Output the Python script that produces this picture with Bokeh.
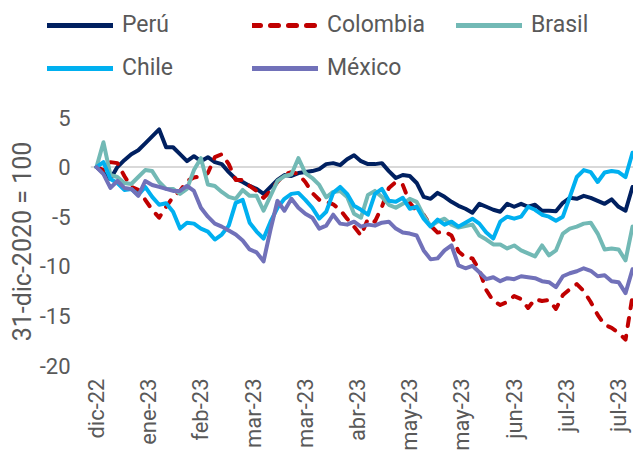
from math import pi
from bokeh.plotting import figure
from bokeh.layouts import column
from bokeh.models import FixedTicker, Span, Legend, LegendItem
from bokeh.embed import file_html
from bokeh.resources import INLINE

# business-day index (every second trading day since 30-dic-2022)
dias = list(range(0, 155, 2))

peru = [0, -0.6, -1.2, 0.0, 0.7, 1.3, 1.7, 2.4, 3.1, 3.8,
        2.0, 2.0, 1.3, 0.6, 1.1, 0.6, 1.0, 0.5, 0.3, -0.5,
        -1.2, -1.5, -1.9, -2.2, -2.7, -2.0, -1.3, -0.8, -0.9, -0.6,
        -0.5, -0.4, -0.2, 0.3, 0.4, 0.2, 0.8, 1.2, 0.6, 0.3,
        0.3, 0.4, -0.4, -1.1, -0.8, -0.9, -1.6, -3.0, -3.2, -2.6,
        -3.0, -3.5, -3.9, -4.2, -4.6, -3.7, -4.0, -4.3, -4.5, -3.7,
        -4.0, -3.7, -4.0, -3.8, -4.4, -4.4, -4.45, -3.6, -3.1, -3.2,
        -2.9, -3.1, -3.4, -3.7, -3.25, -4.0, -4.4, -2.0]

colombia = [0, -0.3, 0.5, 0.4, -0.9, -2.0, -2.3, -3.3, -4.3, -5.1,
            -4.0, -3.0, -2.4, -1.4, -1.05, -0.9, -0.6, 1.0, 1.3, 0.3,
            -1.3, -1.3, -1.9, -2.4, -3.1, -2.4, -1.5, -0.75, -0.5, -0.7,
            -1.5, -2.6, -3.3, -3.5, -3.75, -4.3, -5.2, -6.0, -6.9, -5.2,
            -5.5, -4.0, -2.1, -1.5, -1.8, -3.6, -4.45, -4.8, -5.9, -6.6,
            -6.5, -6.9, -8.5, -9.1, -9.2, -10.4, -12.4, -13.5, -13.9, -13.6,
            -13.0, -13.3, -14.2, -13.3, -13.5, -13.4, -14.3, -12.9, -12.3, -11.8,
            -12.5, -13.6, -14.9, -15.9, -16.2, -16.7, -17.4, -13.0]

brasil = [0, 2.5, -0.8, -1.0, -1.6, -1.7, -1.0, -0.3, -0.4, -1.5,
          -2.2, -2.2, -2.7, -2.2, -0.3, 0.9, -1.75, -1.9, -2.5, -3.0,
          -3.2, -2.3, -2.9, -2.9, -4.4, -2.9, -1.4, -0.9, -0.75, 0.9,
          -0.6, -1.1, -1.8, -3.05, -2.5, -2.4, -3.0, -4.7, -5.1, -2.8,
          -2.4, -3.0, -3.8, -4.1, -3.7, -3.2, -3.5, -4.9, -5.95, -5.5,
          -5.2, -5.8, -6.1, -5.95, -5.8, -6.9, -7.3, -7.8, -7.8, -8.2,
          -7.9, -8.4, -8.7, -9.0, -7.9, -8.9, -8.4, -6.7, -6.2, -6.0,
          -5.7, -5.6, -6.7, -8.3, -8.2, -8.3, -9.4, -6.0]

chile = [0, 0.5, -1.2, -1.6, -2.3, -2.2, -2.8, -2.0, -3.0, -3.8,
         -3.65, -4.5, -6.2, -5.6, -5.7, -6.2, -6.5, -7.3, -6.8, -5.9,
         -3.6, -3.3, -5.6, -6.5, -7.2, -5.5, -4.1, -3.2, -2.7, -2.6,
         -3.3, -4.1, -5.2, -4.5, -2.6, -2.0, -2.7, -3.9, -4.3, -4.8,
         -2.7, -2.2, -3.4, -3.5, -3.1, -4.2, -4.0, -5.2, -6.0, -5.3,
         -5.8, -5.5, -6.0, -5.6, -5.2, -5.7, -6.6, -7.2, -5.5, -5.0,
         -5.2, -5.0, -4.0, -4.3, -4.8, -5.0, -5.4, -5.0, -3.0, -1.0,
         -0.3, -0.5, -1.5, -0.55, -0.4, -0.5, -1.0, 1.45]

mexico = [0, -0.7, -2.1, -1.4, -2.1, -2.2, -2.9, -1.4, -1.8, -2.0,
          -2.2, -2.4, -2.4, -1.9, -2.4, -4.1, -5.0, -5.7, -6.0, -6.4,
          -6.8, -7.4, -8.3, -8.6, -9.5, -6.3, -3.4, -4.4, -3.2, -4.1,
          -4.7, -5.1, -6.2, -5.9, -4.8, -5.7, -5.8, -5.5, -6.0, -5.8,
          -5.9, -5.6, -5.5, -6.2, -6.6, -6.7, -6.9, -8.4, -9.3, -9.2,
          -8.4, -7.9, -9.9, -10.2, -9.95, -10.6, -11.3, -11.1, -11.5, -11.2,
          -11.3, -11.0, -11.1, -11.2, -11.5, -11.6, -12.1, -11.0, -10.7, -10.5,
          -10.2, -10.45, -11.0, -10.9, -11.5, -11.6, -12.7, -10.3]

tick_pos = [0, 15, 30, 45, 60, 75, 90, 105, 120, 135, 150]
tick_labels = ["dic-22", "ene-23", "feb-23", "mar-23", "mar-23", "abr-23",
               "may-23", "may-23", "jun-23", "jul-23", "jul-23"]
y_ticks = [-20, -15, -10, -5, 0, 5]
y_tick_labels = ["-20", "-15", "-10", "-5", "0", "5"]

FONT = "Roboto"
GRAY = "#595959"

series = [("Perú", peru, "#002060", None),
          ("Colombia", colombia, "#C00000", "8 10"),
          ("Brasil", brasil, "#72B9B5", None),
          ("Chile", chile, "#00B0F0", None),
          ("México", mexico, "#7171B9", None)]

# ---------- legend strip (top) ----------
LEG_H = 105
leg = figure(width=633, height=LEG_H, output_backend="svg", toolbar_location=None,
             x_range=(0, 633), y_range=(0, LEG_H),
             min_border=0, min_border_left=0, min_border_right=0,
             min_border_top=0, min_border_bottom=0)
leg.axis.visible = False
leg.xgrid.visible = False
leg.ygrid.visible = False
leg.outline_line_color = None

slots = {"Perú": (47, 67), "Colombia": (252, 67), "Brasil": (456, 67),
         "Chile": (47, 24), "México": (252, 24)}
for name, vals, col, dash in series:
    kw = dict(line_color=col, line_width=5, line_cap="round")
    if dash:
        kw["line_dash"] = dash
    # legend-only key line: a single undefined point, nothing is drawn in the strip
    r = leg.line([float("nan")], [float("nan")], **kw)
    lg = Legend(items=[LegendItem(label=name, renderers=[r])],
                location=slots[name], padding=0, margin=0, spacing=0,
                border_line_color=None, background_fill_alpha=0,
                label_text_font=FONT, label_text_font_size="23px",
                label_text_color=GRAY, glyph_width=66, glyph_height=26,
                label_height=26, label_standoff=9)
    leg.add_layout(lg)

# ---------- main chart ----------
p = figure(width=633, height=453 - LEG_H, output_backend="svg", toolbar_location=None,
           x_range=(-1.724, 154.29), y_range=(-20, 5),
           min_border_left=90, min_border_right=0,
           min_border_top=12, min_border_bottom=86)
p.outline_line_color = None
p.xgrid.visible = False
p.ygrid.visible = False

try:
    leg.frame_align = False
    p.frame_align = False
except AttributeError:
    pass

p.add_layout(Span(location=0, dimension="width", line_color="#d9d9d9",
                  line_width=2, level="underlay"))

for name, vals, col, dash in series:
    kw = dict(line_color=col, line_width=4, line_join="round", line_cap="round")
    if dash:
        kw["line_dash"] = dash
    p.line(dias, vals, **kw)

xa = p.xaxis[0]
xa.ticker = FixedTicker(ticks=tick_pos)
xa.major_label_overrides = {t: l for t, l in zip(tick_pos, tick_labels)}
xa.major_label_orientation = pi / 2
xa.axis_line_color = None
xa.major_tick_line_color = None
xa.minor_tick_line_color = None
xa.major_tick_out = 0
xa.major_tick_in = 0
xa.major_label_standoff = 13
xa.major_label_text_font = FONT
xa.major_label_text_font_size = "22px"
xa.major_label_text_color = GRAY

ya = p.yaxis[0]
ya.ticker = FixedTicker(ticks=y_ticks)
ya.major_label_overrides = {t: l for t, l in zip(y_ticks, y_tick_labels)}
ya.axis_line_color = None
ya.major_tick_line_color = None
ya.minor_tick_line_color = None
ya.major_tick_out = 0
ya.major_tick_in = 0
ya.major_label_standoff = 20
ya.major_label_text_font = FONT
ya.major_label_text_font_size = "22px"
ya.major_label_text_color = GRAY
ya.axis_label = "31-dic-2020 = 100"
ya.axis_label_text_font = FONT
ya.axis_label_text_font_size = "25px"
ya.axis_label_text_font_style = "normal"
ya.axis_label_text_color = GRAY
ya.axis_label_standoff = 0

layout = column(leg, p, spacing=0)
open("out.html", "w").write(file_html(layout, INLINE))
